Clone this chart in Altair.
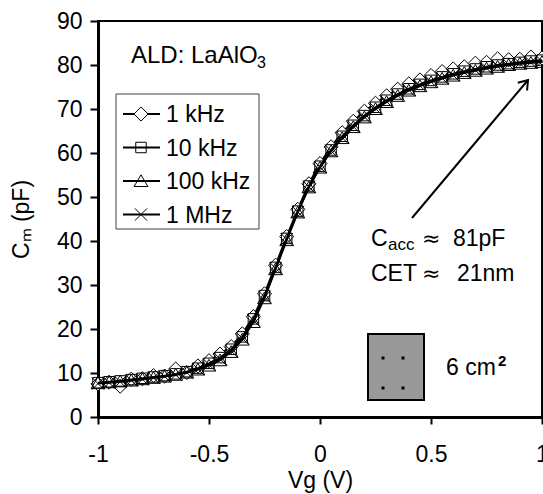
import altair as alt
import pandas as pd

# ---------------- data ----------------
volts = [-1.00, -0.95, -0.90, -0.85, -0.80, -0.75, -0.70, -0.65, -0.60, -0.55,
         -0.50, -0.45, -0.40, -0.35, -0.30, -0.25, -0.20, -0.15, -0.10, -0.05,
         0.00, 0.05, 0.10, 0.15, 0.20, 0.25, 0.30, 0.35, 0.40, 0.45,
         0.50, 0.55, 0.60, 0.65, 0.70, 0.75, 0.80, 0.85, 0.90, 0.95, 1.00]

c_1khz = [7.5, 7.9, 7.0, 8.6, 8.7, 9.4, 9.3, 10.9, 10.1, 11.6,
          12.8, 14.3, 16.0, 18.9, 22.8, 28.0, 34.5, 41.0, 47.2, 53.0,
          57.6, 61.4, 64.6, 67.2, 69.5, 71.3, 73.0, 74.5, 75.7, 76.6,
          77.6, 78.5, 79.1, 79.6, 80.4, 80.6, 81.4, 81.2, 81.3, 81.8, 81.6]
c_10khz = [7.8, 8.0, 8.2, 8.5, 8.8, 9.1, 9.4, 9.8, 10.3, 11.1,
           12.2, 13.5, 15.4, 18.2, 22.3, 27.6, 34.0, 40.6, 46.8, 52.5,
           57.0, 60.7, 63.8, 66.3, 68.5, 70.4, 72.0, 73.4, 74.6, 75.6,
           76.5, 77.3, 78.0, 78.6, 79.1, 79.6, 80.0, 80.3, 80.6, 80.9, 81.1]
c_100khz = [7.7, 7.9, 8.1, 8.3, 8.6, 8.9, 9.2, 9.6, 10.1, 10.8,
            11.7, 12.9, 14.8, 17.6, 21.6, 27.0, 33.6, 40.2, 46.5, 52.2,
            56.7, 60.4, 63.4, 65.9, 68.1, 70.0, 71.6, 73.0, 74.2, 75.2,
            76.1, 76.9, 77.6, 78.2, 78.7, 79.2, 79.6, 80.0, 80.3, 80.5, 80.7]
c_1mhz = [7.6, 7.8, 8.0, 8.3, 8.6, 8.9, 9.2, 9.6, 10.1, 10.9,
          11.9, 13.2, 15.0, 17.9, 22.0, 27.3, 33.8, 40.4, 46.6, 52.3,
          56.8, 60.5, 63.5, 66.0, 68.2, 70.1, 71.7, 73.1, 74.3, 75.3,
          76.2, 77.0, 77.7, 78.3, 78.8, 79.3, 79.7, 80.1, 80.4, 80.6, 80.8]

series_names = ["1 kHz", "10 kHz", "100 kHz", "1 MHz"]
series_values = [c_1khz, c_10khz, c_100khz, c_1mhz]

x_ticks = [-1, -0.5, 0, 0.5, 1]
y_ticks = [0, 10, 20, 30, 40, 50, 60, 70, 80, 90]

# ---------------- styling / layout ----------------
FONT = "Liberation Sans"
FS = 23
W, H = 444, 396
LEFT, TOP = 98, 21

CROSS = "M -1 -1 L 1 1 M -1 1 L 1 -1"
TRI = "M 0 -0.9 L 1 0.8 L -1 0.8 Z"
styles = {
    "1 kHz": dict(shape="diamond", size=200, fill="white"),
    "10 kHz": dict(shape="square", size=110, fill="transparent"),
    "100 kHz": dict(shape=TRI, size=190, fill="transparent"),
    "1 MHz": dict(shape=CROSS, size=150, fill="transparent"),
}

xs = alt.Scale(domain=[-1, 1], nice=False, zero=False)
ys = alt.Scale(domain=[0, 90], nice=False, zero=False)


def dx(px):
    return -1 + (px - LEFT) / (W / 2)


def dy(py):
    return (TOP + H - py) / (H / 90)


x_axis = alt.Axis(values=x_ticks, labelExpr="'' + datum.value", title="Vg (V)",
                  grid=False, domainColor="black", domainWidth=3,
                  tickColor="black", tickWidth=2, tickSize=7,
                  labelFont=FONT, labelFontSize=FS, labelColor="black",
                  labelBaseline="alphabetic", labelPadding=37.5, labelFlush=False,
                  titleFont=FONT, titleFontSize=FS, titleFontWeight="normal",
                  titleColor="black", titleBaseline="alphabetic", titleY=70,
                  titleX=W / 2, titleAlign="center")
y_axis = alt.Axis(values=y_ticks, title="Cₘ (pF)",
                  grid=False, domainColor="black", domainWidth=3,
                  tickColor="black", tickWidth=2, tickSize=8,
                  labelFont=FONT, labelFontSize=FS, labelColor="black",
                  labelPadding=8, labelFlush=False,
                  titleFont=FONT, titleFontSize=FS, titleFontWeight="normal",
                  titleColor="black", titleBaseline="alphabetic", titleAngle=270,
                  titleX=28 - LEFT, titleY=H / 2, titleAlign="center")


def X(f):
    return alt.X(f, type="quantitative", scale=xs, axis=x_axis)


def Y(f):
    return alt.Y(f, type="quantitative", scale=ys, axis=y_axis)


layers = []

# data series
for name, vals in zip(series_names, series_values):
    d = pd.DataFrame({"V": volts, "C": vals})
    st = styles[name]
    layers.append(alt.Chart(d).mark_line(color="black", strokeWidth=2).encode(x=X("V"), y=Y("C")))
    layers.append(
        alt.Chart(d).mark_point(shape=st["shape"], size=st["size"], filled=False,
                                fill=st["fill"], fillOpacity=1, stroke="black",
                                strokeWidth=1, opacity=1).encode(x=X("V"), y=Y("C"))
    )

# legend
leg_box = pd.DataFrame({"x": [dx(116)], "x2": [dx(259)], "y": [dy(94)], "y2": [dy(229)]})
layers.append(alt.Chart(leg_box).mark_rect(fill="white", stroke="#404040", strokeWidth=1).encode(
    x=X("x"), x2="x2", y=Y("y"), y2="y2"))
for i, name in enumerate(series_names):
    cy = 114 + 33.5 * i
    st = styles[name]
    row = pd.DataFrame({"x": [dx(123)], "x2": [dx(160)], "xm": [dx(141)], "xt": [dx(166)],
                        "y": [dy(cy)], "yt": [dy(cy + 8)], "label": [name]})
    layers.append(alt.Chart(row).mark_rule(color="black", strokeWidth=2).encode(x=X("x"), x2="x2", y=Y("y")))
    layers.append(alt.Chart(row).mark_point(shape=st["shape"], size=st["size"], filled=False,
                                            fill=st["fill"], fillOpacity=1, stroke="black",
                                            strokeWidth=1, opacity=1).encode(x=X("xm"), y=Y("y")))
    layers.append(alt.Chart(row).mark_text(font=FONT, fontSize=FS, align="left", baseline="alphabetic",
                                           color="black").encode(x=X("xt"), y=Y("yt"), text="label:N"))


def text_layer(px, py, txt, size=FS, font=FONT, weight="normal"):
    t = pd.DataFrame({"x": [dx(px)], "y": [dy(py)], "t": [txt]})
    return alt.Chart(t).mark_text(font=font, fontSize=size, fontWeight=weight, align="left",
                                  baseline="alphabetic", color="black").encode(
        x=X("x"), y=Y("y"), text="t:N")


# annotations
layers.append(text_layer(131, 63, "ALD: LaAlO", 24))
layers.append(text_layer(257, 68, "3", 16))
layers.append(text_layer(371, 246, "C"))
layers.append(text_layer(388, 250, "acc", 17))
layers.append(text_layer(422, 246, "≈", 22, "DejaVu Sans"))
layers.append(text_layer(453, 246, "81pF"))
layers.append(text_layer(371, 281, "CET"))
layers.append(text_layer(422, 281, "≈", 22, "DejaVu Sans"))
layers.append(text_layer(457, 281, "21nm"))
layers.append(text_layer(446, 375, "6 cm"))
layers.append(text_layer(498, 366, "2", 15, FONT, "bold"))

# arrow
arrow = pd.DataFrame({"x": [dx(412)], "y": [dy(218)], "x2": [dx(528)], "y2": [dy(80)]})
layers.append(alt.Chart(arrow).mark_rule(color="black", strokeWidth=2).encode(
    x=X("x"), y=Y("y"), x2="x2", y2="y2"))
layers.append(alt.Chart(arrow).mark_point(shape="M -0.7 1 L 0 0 L 0.7 1", size=300, angle=40,
                                          filled=False, stroke="black", strokeWidth=2, opacity=1).encode(
    x=X("x2"), y=Y("y2")))

# electrode sample box
box = pd.DataFrame({"x": [dx(368)], "x2": [dx(424)], "y": [dy(400)], "y2": [dy(334)]})
layers.append(alt.Chart(box).mark_rect(fill="#999999", stroke="black", strokeWidth=2).encode(
    x=X("x"), x2="x2", y=Y("y"), y2="y2"))
dots = pd.DataFrame({"x": [dx(383), dx(403), dx(383), dx(403)],
                     "y": [dy(358), dy(358), dy(388), dy(388)]})
layers.append(alt.Chart(dots).mark_square(size=9, color="black", opacity=1).encode(x=X("x"), y=Y("y")))

chart = alt.layer(*layers).properties(
    width=W, height=H,
    autosize=alt.AutoSizeParams(type="none"),
    padding={"left": LEFT, "top": TOP, "right": 1, "bottom": 77},
).configure_view(stroke="black", strokeWidth=2)

chart.save("out.html", embed_options={"renderer": "svg", "actions": False})
